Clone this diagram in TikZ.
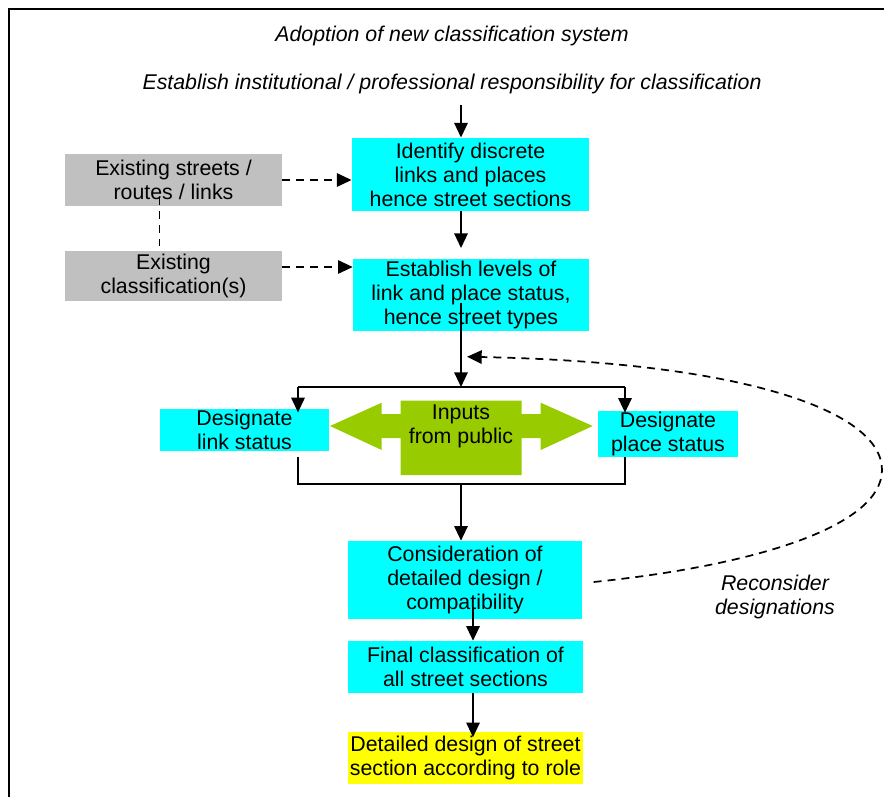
\documentclass[tikz,border=0pt]{standalone}
\usepackage{fontspec}
\setmainfont{Liberation Sans}
\usetikzlibrary{arrows.meta,calc}
\definecolor{Cyan}{HTML}{00FFFF}
\definecolor{Grey}{HTML}{C0C0C0}
\definecolor{Green}{HTML}{99CC00}
\definecolor{Yellow}{HTML}{FFFF00}
\tikzset{box/.style={fill=Cyan,align=center,inner sep=0pt,font=\fontsize{16}{18}\selectfont},source/.style={box,fill=Grey},role/.style={box,fill=Yellow},title/.style={font=\fontsize{16}{18}\selectfont\itshape,align=center,inner sep=0pt},flow/.style={-{Triangle[length=11pt,width=10pt]},line width=1.5pt},hint/.style={-{Triangle[length=11pt,width=10pt]},line width=1.3pt,dash pattern=on 6pt off 4.5pt}}

\begin{document}
\begin{tikzpicture}[x=0.75pt,y=-0.75pt]
  \useasboundingbox (0,0) rectangle (884,796);
  \draw[line width=1.3pt] (9,800)--(9,9)--(890,9);
  \coordinate (spine) at (461,0);\coordinate (spine2) at (473,0);
  \node[title](adopt) at (452,36){Adoption of new classification system};
  \node[title](resp) at (452,84){Establish institutional / professional responsibility for classification};
  \node[box,minimum width=178pt,minimum height=55pt](ident) at (470.5,174.5){Identify discrete\\links and places\\hence street sections};
  \node[source,minimum width=163pt,minimum height=39pt](streets) at (173.5,180){Existing streets /\\routes / links};
  \node[source,minimum width=163pt,minimum height=38pt](existing) at (173.5,276){Existing\\classification(s)};
  \node[box,minimum width=177pt,minimum height=54pt](levels) at (471,295){Establish levels of\\link and place status,\\hence street types};
  % designations and public input
  \coordinate (barL) at (298,387);\coordinate (barR) at (625,387);
  \coordinate (footL) at (298,483.5);\coordinate (footR) at (625,483.5);
  \fill[Green](330,426)--(381.7,402.7)--(381.7,414)--(400.7,414)--(400.7,400.7)--(521.7,400.7)--(521.7,414)--(540.7,414)--(540.7,402.7)--(592.7,426)--(540.7,450)--(540.7,438)--(521.7,438)--(521.7,475)--(400.7,475)--(400.7,438)--(381.7,438)--(381.7,450)--cycle;
  \node[box,fill=none](public) at (461,426){Inputs\\from public};
  \node[box,minimum width=127pt,minimum height=32pt](link) at (244.5,430){Designate\\link status};
  \node[box,minimum width=105pt,minimum height=34.5pt](place) at (668,434){Designate\\place status};
  \node[box,minimum width=176pt,minimum height=58.5pt](consid) at (465,580){Consideration of\\detailed design /\\compatibility};
  \node[box,minimum width=176pt,minimum height=39pt](final) at (465.5,667){Final classification of\\all street sections};
  \node[role,minimum width=176pt,minimum height=39pt](design) at (465.5,757.5){Detailed design of street\\section according to role};
  \node[title](recon) at (775,597){Reconsider\\designations};
  % connectors
  \draw[flow,shorten <=8pt](resp.south -| spine)--(ident.north -| spine);
  \draw[flow,shorten >=8pt](ident.south -| spine)--(levels.north -| spine);
  \draw[flow]($(levels.center -| spine)+(0,8)$)--(barL -| spine);
  \draw[line width=1.5pt](barL)--(barR);
  \draw[flow](barL)--($(link.north -| barL)+(0,4)$);
  \draw[flow](barR)--($(place.north -| barR)+(0,2)$);
  \draw[line width=1.5pt]($(link.south -| footL)+(0,5)$)--(footL)--(footR)--(place.south -| footR);
  \draw[flow](footL -| spine)--(consid.north -| spine);
  \draw[flow]($(consid.south -| spine2)+(0,-12)$)--(final.north -| spine2);
  \draw[flow](final.south -| spine2)--($(design.north -| spine2)+(0,6)$);
  \draw[hint](streets.east)--(streets.east -| ident.west);
  \draw[hint]($(existing.east)+(0,-9)$)--($(existing.east -| levels.west)+(0,-9)$);
  \draw[line width=1.3pt,dash pattern=on 6pt off 4.5pt]($(streets.south)+(-14,-9)$)--($(existing.north)+(-14,-4)$);
  \coordinate (back) at ($(levels.south -| spine)+(6,25.5)$);
  \draw[hint]($(consid.east)+(11,2)$) .. controls (760,565) and (882,525) .. (882,470) .. controls (882,410) and (740,362) .. (back);
\end{tikzpicture}
\end{document}
